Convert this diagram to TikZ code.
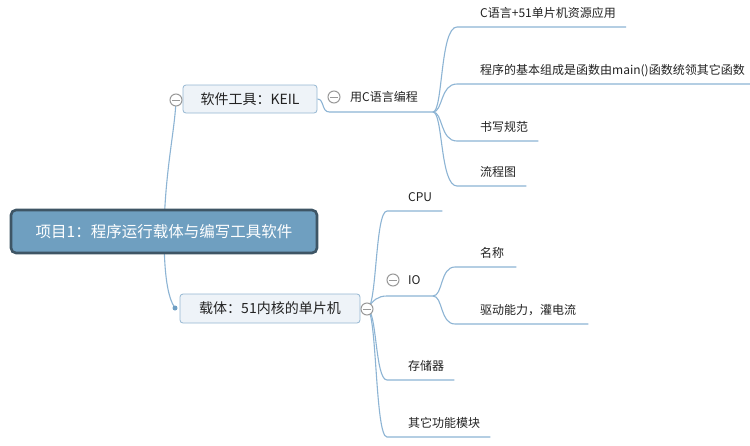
\documentclass[tikz,border=0pt]{standalone}
\usepackage{fontspec}
\setmainfont{Noto Sans CJK SC}
\usetikzlibrary{calc,backgrounds}
\definecolor{lnk}{HTML}{8DB4D4}
\definecolor{rootfill}{HTML}{6F9FC0}
\definecolor{rootdraw}{HTML}{3E5565}
\definecolor{subfill}{HTML}{EEF3F8}
\definecolor{subdraw}{HTML}{95B7D2}
\definecolor{txt}{HTML}{222222}
\definecolor{togg}{HTML}{999999}
\definecolor{dotc}{HTML}{6F9FC4}
\begin{document}
\begin{tikzpicture}[x=1pt,y=-1pt,
  conn/.style={draw=lnk, line width=1.1pt},
  rootbox/.style={draw=rootdraw, line width=2.6pt, fill=rootfill, rounded corners=5pt, minimum width=306pt, minimum height=43pt, text=white, font=\fontsize{15.5}{18}\selectfont, inner sep=0pt},
  subbox/.style={draw=subdraw, line width=0.8pt, fill=subfill, rounded corners=3pt, text=txt, font=\fontsize{14}{16}\selectfont, inner sep=0pt, minimum height=28pt},
  leaf/.style={anchor=south west, inner xsep=0pt, inner ysep=6pt, text height=9pt, text depth=3pt, text=txt, font=\fontsize{12}{14}\selectfont},
  plain/.style={anchor=west, inner sep=0pt, text=txt, font=\fontsize{12}{14}\selectfont},
  toggle/.style={circle, draw=togg, line width=1pt, fill=white, minimum size=12pt, inner sep=0pt,
    path picture={\draw[togg, line width=1pt] ([xshift=-3.6pt]path picture bounding box.center) -- ([xshift=3.6pt]path picture bounding box.center);}},
  ]
\useasboundingbox (0,0) rectangle (750,445);
% main nodes
\node[rootbox] (root) at (164,231.5) {项目1：程序运行载体与编写工具软件};
\node[subbox, minimum width=134pt] (keil) at (250,99) {软件工具：KEIL};
\node[subbox, minimum width=180pt, minimum height=29pt] (zt) at (270,308.5) {载体：51内核的单片机};
\node[toggle] (tk) at (176,100) {};
\node[toggle] (tc) at (334,97) {};
\node[toggle] (tz) at (367,309) {};
\node[toggle] (tio) at (393,280) {};
\node[circle, fill=dotc, minimum size=5pt, inner sep=0pt] (dot) at (175,308) {};
\node[plain] (c) at (350,97) {用C语言编程};
\node[plain] (io) at (408,280) {IO};
\coordinate (f1) at (433,112);
\coordinate (f3) at (433,296);
% leaves
\node[leaf] (a1) at (480,27) {C语言+51单片机资源应用};
\node[leaf] (a2) at (480,84) {程序的基本组成是函数由main()函数统领其它函数};
\node[leaf] (a3) at (480,141) {书写规范};
\node[leaf] (a4) at (480,186) {流程图};
\node[leaf] (b1) at (408,211) {CPU};
\node[leaf] (b3) at (408,380) {存储器};
\node[leaf] (b4) at (408,437) {其它功能模块};
\node[leaf] (d1) at (480,267) {名称};
\node[leaf] (d2) at (480,324) {驱动能力，灌电流};
\begin{pgfonlayer}{background}
\fill[white] (0,0) rectangle (750,445);
\draw[conn] (root.center) .. controls ($(root.center)+(1,-61)$) and ($(tk.center)+(-1,30)$) .. (tk.center);
\draw[conn] (root.center) .. controls ($(root.center)+(0,45)$) and ($(dot.center)+(-7,-10)$) .. (dot.center);
\draw[conn] (keil.east) .. controls ($(keil.east)+(7,0)$) and ($(keil.east)+(4,13)$) .. ($(keil.east)+(12,13)$) -- (f1);
\foreach \n in {a1,a2,a3,a4}{
  \draw[conn] (f1) .. controls ($(f1)+(10,0)$) and ($(\n.south west)+(-40,0)$) .. ($(\n.south west)+(-23,0)$) -- ($(\n.south east)+(10,0)$);
}
\foreach \n in {b1,b3,b4}{
  \draw[conn] (tz.center) .. controls ($(tz.center)+(10,0)$) and ($(\n.south west)+(-33,0)$) .. ($(\n.south west)+(-21,0)$) -- ($(\n.south east)+(10,0)$);
}
\draw[conn] (tz.center) .. controls ($(tz.center)+(6,-9)$) and ($(f3)+(-55,0)$) .. ($(f3)+(-46,0)$) -- (f3);
\foreach \n in {d1,d2}{
  \draw[conn] (f3) .. controls ($(f3)+(10,0)$) and ($(\n.south west)+(-40,0)$) .. ($(\n.south west)+(-25,0)$) -- ($(\n.south east)+(12,0)$);
}
\end{pgfonlayer}
\end{tikzpicture}
\end{document}
